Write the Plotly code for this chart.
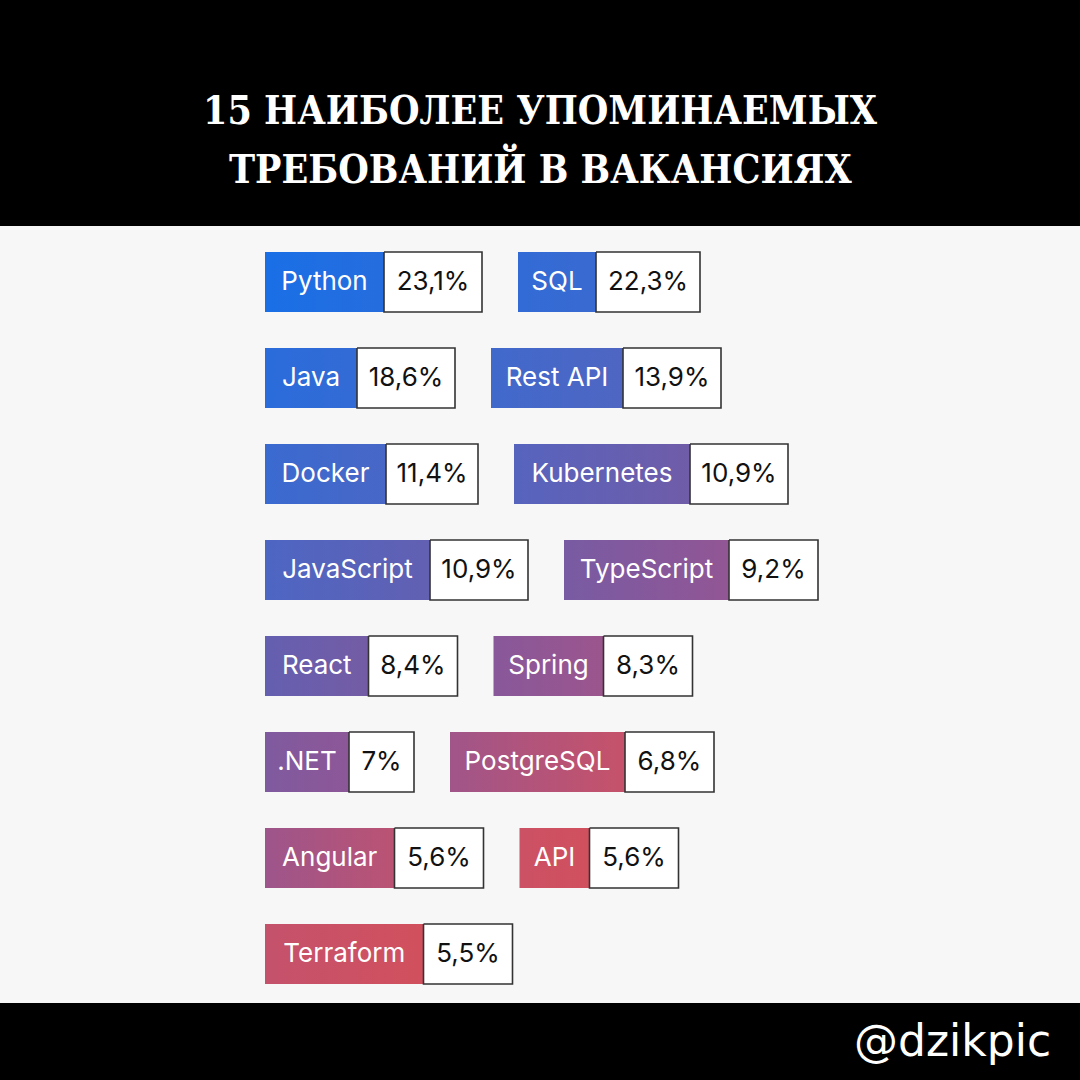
import plotly.graph_objects as go

# data
skills = ["Python", "SQL", "Java", "Rest API", "Docker", "Kubernetes", "JavaScript",
          "TypeScript", "React", "Spring", ".NET", "PostgreSQL", "Angular", "API", "Terraform"]
shares = [23.1, 22.3, 18.6, 13.9, 11.4, 10.9, 10.9, 9.2, 8.4, 8.3, 7.0, 6.8, 5.6, 5.6, 5.5]

title_lines = ["15 НАИБОЛЕЕ УПОМИНАЕМЫХ", "ТРЕБОВАНИЙ В ВАКАНСИЯХ"]
handle = "@dzikpic"

# layout / style
PER_ROW = 2
LEFT, TOP = 265, 252
BOX_H, ROW_STEP, GAP, PAD = 60, 96, 36, 15

# rough glyph widths (px) of the original geometric sans at label size
CHAR_W = {
    "A": 18, "P": 16, "S": 15, "Q": 20, "L": 13, "J": 14, "R": 16, "D": 19, "K": 17,
    "T": 15, "N": 19, "E": 14, "I": 6, "G": 20,
    "a": 16.5, "b": 16, "c": 15, "e": 16, "g": 16, "h": 16, "i": 7, "k": 15, "l": 7,
    "m": 25, "n": 16, "o": 16, "p": 16, "r": 10, "s": 13, "t": 10, "u": 16, "v": 15,
    "y": 15, "f": 10, " ": 7, ".": 6, ",": 9, "%": 20, "1": 9,
}
DIGIT_W = 15

GRAD = [(0.0, "#1a6fe6"), (0.25, "#3a6ad0"), (0.45, "#5864bc"), (0.52, "#675ead"),
        (0.73, "#955692"), (0.88, "#c4526c"), (1.0, "#d2505d")]


def text_w(s):
    return sum(DIGIT_W if ch.isdigit() and ch != "1" else CHAR_W.get(ch, 16) for ch in s)


def fmt(v):
    return f"{v:g}".replace(".", ",") + "%"


def hex2rgb(h):
    return [int(h[i:i + 2], 16) for i in (1, 3, 5)]


def grad_color(t):
    t = max(0.0, min(1.0, t))
    for (t0, c0), (t1, c1) in zip(GRAD[:-1], GRAD[1:]):
        if t <= t1:
            f = (t - t0) / (t1 - t0)
            a, b = hex2rgb(c0), hex2rgb(c1)
            r = [round(a[i] + (b[i] - a[i]) * f) for i in range(3)]
            return "rgb(%d,%d,%d)" % tuple(r)
    return GRAD[-1][1]


def grad_pos(x, row):
    return ((x - LEFT) + 1.8 * ROW_STEP * row) / 1370


fig = go.Figure()

x = LEFT
for i, (name, val) in enumerate(zip(skills, shares)):
    row, col = divmod(i, PER_ROW)
    if col == 0:
        x = LEFT
    y0, y1 = TOP + row * ROW_STEP, TOP + row * ROW_STEP + BOX_H
    lab_w = text_w(name) + 2 * PAD
    pct = fmt(val)
    pct_w = text_w(pct) + 2 * PAD
    xa, xb, xc = x, x + lab_w, x + lab_w + pct_w

    fig.add_trace(go.Scatter(
        x=[xa, xb, xb, xa, xa], y=[y0, y0, y1, y1, y0],
        mode="lines", fill="toself", line=dict(width=0),
        fillgradient=dict(type="horizontal",
                          colorscale=[[0, grad_color(grad_pos(xa, row))],
                                      [1, grad_color(grad_pos(xb, row))]]),
        hoverinfo="skip", showlegend=False))
    fig.add_trace(go.Scatter(
        x=[xb, xc, xc, xb, xb], y=[y0, y0, y1, y1, y0],
        mode="lines", fill="toself", fillcolor="white",
        line=dict(color="#333333", width=1.6),
        hoverinfo="skip", showlegend=False))
    fig.add_trace(go.Scatter(
        x=[(xa + xb) / 2, (xb + xc) / 2], y=[(y0 + y1) / 2 + 1] * 2,
        mode="text", text=[name, pct],
        textfont=dict(family="Inter, Noto Sans, sans-serif", size=26,
                      color=["white", "#111111"]),
        textposition="middle center", hoverinfo="skip", showlegend=False))
    x = xc + GAP

# black header and footer bands
fig.add_shape(type="rect", xref="paper", yref="y", x0=0, x1=1, y0=0, y1=226,
              fillcolor="black", line_width=0, layer="below")
fig.add_shape(type="rect", xref="paper", yref="y", x0=0, x1=1, y0=1003, y1=1080,
              fillcolor="black", line_width=0, layer="below")

for k, line in enumerate(title_lines):
    fig.add_annotation(x=540, y=110 + 57 * k, xref="x", yref="y", text="<b>%s</b>" % line,
                       showarrow=False, xanchor="center", yanchor="middle",
                       font=dict(family="DejaVu Serif Condensed, DejaVu Serif, serif",
                                 size=39, color="white"))

fig.add_annotation(x=1053, y=1040, xref="x", yref="y", text=handle, showarrow=False,
                   xanchor="right", yanchor="middle",
                   font=dict(family="DejaVu Sans, sans-serif", size=44, color="white"))

fig.update_xaxes(range=[0, 1080], visible=False, fixedrange=True)
fig.update_yaxes(range=[1080, 0], visible=False, fixedrange=True)
fig.update_layout(width=1080, height=1080, margin=dict(l=0, r=0, t=0, b=0),
                  paper_bgcolor="#f7f7f7", plot_bgcolor="#f7f7f7")

fig.write_html("out.html", config={"displayModeBar": False},
               post_script="document.body.style.margin='0';")
